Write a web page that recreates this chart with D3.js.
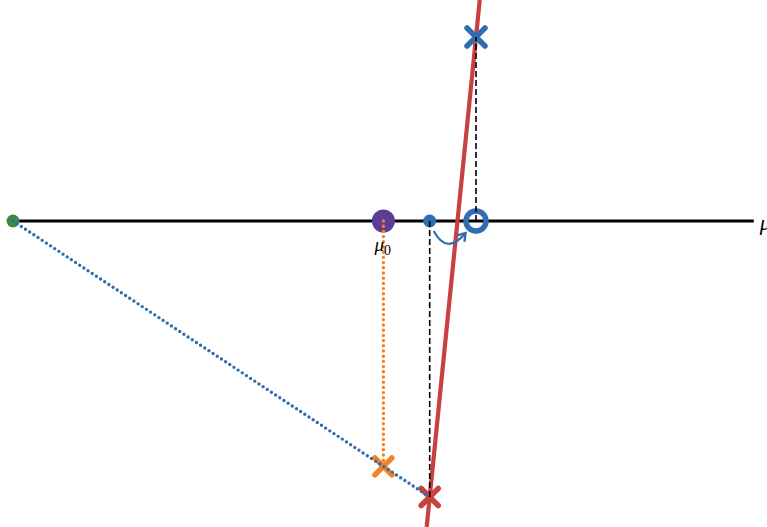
<!DOCTYPE html>
<html>
<head>
<meta charset="utf-8">
<script src="https://cdn.jsdelivr.net/npm/d3@7"></script>
<style>
body { margin: 0; background: #fff; }
svg { display: block; }
</style>
</head>
<body>
<svg id="canvas" width="767" height="527"></svg>
<script>
// points on the parameter axis (data units)
const axisRange = [-4, 4];
const start = [-4, 0];
const mu0 = [0, 0];
const step = [0.5, 0];
const target = [1, 0];
const topCross = [1, 2];
const orangeCross = [0, -2.667];
const redCross = [0.5, -3];
const tangentSlope = 10;

const W = 767, H = 527;
const x = d3.scaleLinear().domain([-4, 1]).range([13, 476]);
const y = d3.scaleLinear().domain([0, 2]).range([221, 37]);

const svg = d3.select("#canvas");
const blue = "#2f6db3", red = "#c8413f", orange = "#f28323", green = "#3a8a45", purple = "#5d3c98";

// axis
svg.append("line")
	.attr("x1", x(axisRange[0])).attr("y1", y(0))
	.attr("x2", x(axisRange[1])).attr("y2", y(0))
	.attr("stroke", "#000").attr("stroke-width", 3);

svg.append("text")
	.attr("x", x(axisRange[1]) + 6).attr("y", y(0) + 9)
	.attr("font-family", "Liberation Serif").attr("font-style", "italic")
	.attr("font-size", 22).text("μ");

// tangent line through the red cross
const yTop = y.invert(0), yBot = y.invert(H);
const xAt = v => redCross[0] + (v - redCross[1]) / tangentSlope;
svg.append("line")
	.attr("x1", x(xAt(yTop))).attr("y1", y(yTop))
	.attr("x2", x(xAt(yBot))).attr("y2", y(yBot))
	.attr("stroke", red).attr("stroke-width", 4.2);

// curved arrow
svg.append("defs").append("marker")
	.attr("id", "head").attr("viewBox", "0 0 10 10")
	.attr("refX", 6).attr("refY", 5)
	.attr("markerWidth", 5.5).attr("markerHeight", 5.5)
	.attr("orient", "auto")
	.append("path").attr("d", "M1,1 L7,5 L1,9")
	.attr("fill", "none").attr("stroke", blue).attr("stroke-width", 2);
svg.append("path")
	.attr("d", `M${x(step[0]) + 4},${y(0) + 10} Q${x(step[0]) + 17},${y(0) + 34} ${x(step[0]) + 35},${y(0) + 13}`)
	.attr("fill", "none").attr("stroke", blue).attr("stroke-width", 2.2)
	.attr("marker-end", "url(#head)");

// points
function dot(p, r, color) {
	svg.append("circle").attr("cx", x(p[0])).attr("cy", y(p[1])).attr("r", r).attr("fill", color);
}
function cross(p, s, color) {
	const cx = x(p[0]), cy = y(p[1]);
	svg.append("path")
		.attr("d", `M${cx - s},${cy - s}L${cx + s},${cy + s}M${cx - s},${cy + s}L${cx + s},${cy - s}`)
		.attr("stroke", color).attr("stroke-width", 5.5).attr("stroke-linecap", "round");
}
dot(start, 6.5, green);
dot(mu0, 11.5, purple);
dot(step, 6.5, blue);
svg.append("circle").attr("cx", x(target[0])).attr("cy", y(target[1])).attr("r", 10)
	.attr("fill", "none").attr("stroke", blue).attr("stroke-width", 5.5);
cross(topCross, 9, blue);
cross(orangeCross, 8.5, orange);
cross(redCross, 8.5, red);

// dashed and dotted guides, drawn over the markers
function vline(p, q, color, width, dash, cap) {
	svg.append("line")
		.attr("x1", x(p[0])).attr("y1", y(p[1]))
		.attr("x2", x(q[0])).attr("y2", y(q[1]))
		.attr("stroke", color).attr("stroke-width", width)
		.attr("stroke-dasharray", dash).attr("stroke-linecap", cap);
}
vline(target, topCross, "#000", 1.6, "6,3", "butt");
vline(step, redCross, "#000", 1.6, "6,3", "butt");
vline(mu0, orangeCross, orange, 3.4, "0,5.2", "round");
vline(start, redCross, blue, 3.4, "0,5", "round");

// mu0 label
const lab = svg.append("text")
	.attr("x", x(mu0[0]) - 9).attr("y", y(0) + 30)
	.attr("font-family", "Liberation Serif").attr("font-size", 19);
lab.append("tspan").attr("font-style", "italic").text("μ");
lab.append("tspan").attr("dy", 4).attr("font-size", 14).text("0");
</script>
</body>
</html>
